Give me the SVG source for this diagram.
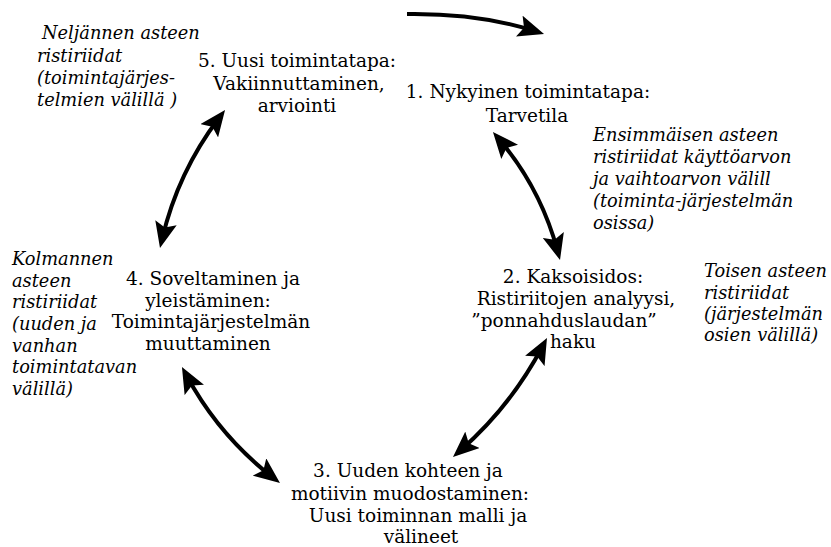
<svg xmlns="http://www.w3.org/2000/svg" width="831" height="547" viewBox="0 0 831 547">
<style>
.n{font-family:"DejaVu Serif","Liberation Serif",serif;font-size:18.5px;fill:#000;text-anchor:middle}
.a{font-family:"DejaVu Serif","Liberation Serif",serif;font-size:17.8px;font-style:italic;fill:#000}
.c{fill:none;stroke:#000;stroke-width:4}
</style>
<defs>
<marker id="ah" viewBox="0 0 26 22" refX="16" refY="11" markerWidth="26" markerHeight="22" markerUnits="userSpaceOnUse" orient="auto-start-reverse">
<path d="M0,0 L26,11 L0,22 L5,11 z" fill="#000"/>
</marker>
</defs>
<rect width="831" height="547" fill="#fff"/>
<g id="connectors">
<path class="c" d="M407,14 Q478,13 534.5,31" marker-end="url(#ah)"/>
<path class="c" d="M219,118 Q178,172 162.3,238.3" marker-start="url(#ah)" marker-end="url(#ah)"/>
<path class="c" d="M499.4,139.6 Q540.7,188.6 557.4,250.4" marker-start="url(#ah)" marker-end="url(#ah)"/>
<path class="c" d="M542.3,346.8 Q511,406 460.5,450.4" marker-start="url(#ah)" marker-end="url(#ah)"/>
<path class="c" d="M186.7,375.8 Q218.8,435.3 272.1,476.9" marker-start="url(#ah)" marker-end="url(#ah)"/>
</g>
<g id="node1">
<text class="n" x="528" y="98">1. Nykyinen toimintatapa:</text>
<text class="n" x="527" y="122">Tarvetila</text>
</g>
<g id="node2">
<text class="n" x="573" y="283">2. Kaksoisidos:</text>
<text class="n" x="576" y="305">Ristiriitojen analyysi,</text>
<text class="n" x="564" y="327">”ponnahduslaudan”</text>
<text class="n" x="573" y="348">haku</text>
</g>
<g id="node3">
<text class="n" x="408" y="477">3. Uuden kohteen ja</text>
<text class="n" x="410" y="500">motiivin muodostaminen:</text>
<text class="n" x="418" y="522">Uusi toiminnan malli ja</text>
<text class="n" x="421" y="543">välineet</text>
</g>
<g id="node4">
<text class="n" x="213" y="285">4.  Soveltaminen ja</text>
<text class="n" x="208" y="307">yleistäminen:</text>
<text class="n" x="211" y="328">Toimintajärjestelmän</text>
<text class="n" x="208" y="350">muuttaminen</text>
</g>
<g id="node5">
<text class="n" x="297" y="67">5.  Uusi toimintatapa:</text>
<text class="n" x="299" y="90">Vakiinnuttaminen,</text>
<text class="n" x="297" y="112">arviointi</text>
</g>
<g id="ann1">
<text class="a" x="593" y="141">Ensimmäisen asteen</text>
<text class="a" x="593" y="163">ristiriidat käyttöarvon</text>
<text class="a" x="593" y="185">ja vaihtoarvon välill</text>
<text class="a" x="593" y="207">(toiminta-järjestelmän</text>
<text class="a" x="593" y="229">osissa)</text>
</g>
<g id="ann2">
<text class="a" x="704" y="277">Toisen asteen</text>
<text class="a" x="704" y="299">ristiriidat</text>
<text class="a" x="704" y="320">(järjestelmän</text>
<text class="a" x="704" y="341">osien välillä)</text>
</g>
<g id="ann3">
<text class="a" x="12" y="265">Kolmannen</text>
<text class="a" x="12" y="287">asteen</text>
<text class="a" x="12" y="308">ristiriidat</text>
<text class="a" x="12" y="330">(uuden ja</text>
<text class="a" x="12" y="352">vanhan</text>
<text class="a" x="12" y="373">toimintatavan</text>
<text class="a" x="12" y="395">välillä)</text>
</g>
<g id="ann4">
<text class="a" x="42" y="39">Neljännen asteen</text>
<text class="a" x="37" y="62">ristiriidat</text>
<text class="a" x="37" y="84">(toimintajärjes-</text>
<text class="a" x="37" y="106">telmien välillä )</text>
</g>
</svg>
